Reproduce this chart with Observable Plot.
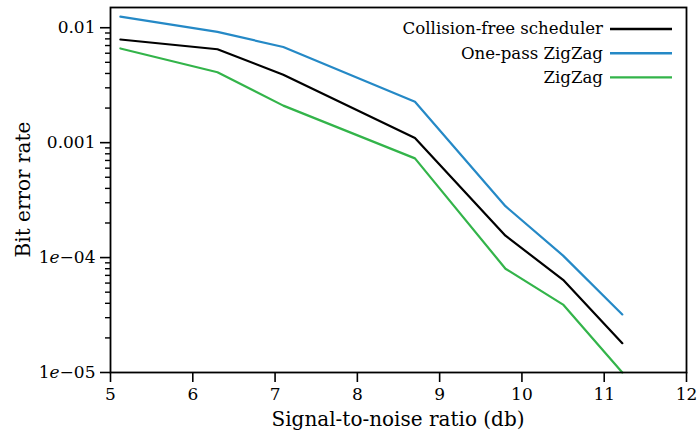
<!DOCTYPE html>
<html>
<head>
<meta charset="utf-8">
<script src="https://cdn.jsdelivr.net/npm/d3@7"></script>
<script src="https://cdn.jsdelivr.net/npm/@observablehq/plot@0.6"></script>
<style>
  html, body { margin: 0; padding: 0; background: #fff; }
  #chart { width: 699px; height: 438px; }
</style>
</head>
<body>
<div id="chart"></div>
<script>
const snr = [5.12, 6.3, 7.1, 8.7, 9.8, 10.5, 11.22];
const collisionFree = [0.0079, 0.0065, 0.0039, 0.0011, 1.55e-4, 6.4e-5, 1.8e-5];
const onePassZigZag = [0.0125, 0.0092, 0.0068, 0.00227, 2.8e-4, 1.04e-4, 3.2e-5];
const zigZag = [0.0066, 0.0041, 0.0021, 7.3e-4, 8.0e-5, 3.9e-5, 1.0e-5];

const seriesNames = ["Collision-free scheduler", "One-pass ZigZag", "ZigZag"];
const seriesColors = ["#000000", "#2589c6", "#33b44a"];
const xTicks = [5, 6, 7, 8, 9, 10, 11, 12];
const yTicks = [1e-5, 1e-4, 1e-3, 1e-2];
const yMinorTicks = [];
for (const d of [1e-5, 1e-4, 1e-3, 1e-2]) for (let k = 2; k <= 9; k++) if (d * k < 0.015) yMinorTicks.push(d * k);
const xLabel = "Signal-to-noise ratio (db)";
const yLabel = "Bit error rate";

const rows = [];
[collisionFree, onePassZigZag, zigZag].forEach((vals, i) => {
  vals.forEach((v, j) => rows.push({series: seriesNames[i], x: snr[j], y: v}));
});

const FONT = "DejaVu Serif";

const plot = Plot.plot({
  width: 699,
  height: 438,
  marginLeft: 110,
  marginRight: 13,
  marginTop: 7,
  marginBottom: 66,
  style: {fontFamily: FONT, fontSize: "17px", color: "#000", background: "#fff"},
  x: {domain: [5, 12]},
  y: {type: "log", domain: [1e-5, 0.015]},
  color: {domain: seriesNames, range: seriesColors},
  marks: [
    Plot.axisX({ticks: xTicks, tickSize: 10, tickPadding: 5, tickFormat: d => String(d), label: null, fontSize: 17, strokeWidth: 1.6}),
    Plot.axisY({ticks: yTicks, tickSize: 10, tickPadding: 5, fontSize: 17, strokeWidth: 1.6, label: null,
      tickFormat: d => d >= 0.001 ? String(+d.toPrecision(1)) : "1e\u22120" + Math.round(-Math.log10(d))}),
    Plot.axisY({ticks: yMinorTicks, tickSize: 5, text: null, label: null, strokeWidth: 1.4}),
    Plot.line(rows, {x: "x", y: "y", z: "series", stroke: "series", strokeWidth: 2.2}),
    Plot.frame({stroke: "#000", strokeWidth: 1.8})
  ]
});

document.getElementById("chart").appendChild(plot);

const svg = d3.select(plot);
const xs = plot.scale("x");
const ys = plot.scale("y");
const pLeft = xs.range[0], pRight = xs.range[1];
const pTop = ys.range[1], pBottom = ys.range[0];

// italic "e" in scientific tick labels
svg.selectAll("text").each(function() {
  const t = this.textContent;
  const m = /^1e(.+)$/.exec(t);
  if (m && !this.querySelector("tspan")) {
    const sel = d3.select(this);
    sel.text(null);
    sel.append("tspan").text("1");
    sel.append("tspan").attr("font-style", "italic").text("e");
    sel.append("tspan").text(m[1]);
  }
});

// axis labels
svg.append("text")
  .attr("x", (pLeft + pRight) / 2)
  .attr("y", 426)
  .attr("text-anchor", "middle")
  .attr("font-family", FONT)
  .attr("font-size", 20)
  .attr("fill", "#000")
  .text(xLabel);

svg.append("text")
  .attr("transform", `translate(30,${(pTop + pBottom) / 2}) rotate(-90)`)
  .attr("text-anchor", "middle")
  .attr("font-family", FONT)
  .attr("font-size", 20)
  .attr("fill", "#000")
  .text(yLabel);

// legend
const lg = svg.append("g").attr("font-family", FONT).attr("font-size", 16.6);
seriesNames.forEach((name, i) => {
  const cy = 29 + i * 24.2;
  lg.append("text")
    .attr("x", pRight - 83)
    .attr("y", cy)
    .attr("dy", "0.32em")
    .attr("text-anchor", "end")
    .attr("fill", "#000")
    .text(name);
  lg.append("line")
    .attr("x1", pRight - 76).attr("x2", pRight - 14)
    .attr("y1", cy).attr("y2", cy)
    .attr("stroke", seriesColors[i])
    .attr("stroke-width", 2.4);
});
</script>
</body>
</html>
